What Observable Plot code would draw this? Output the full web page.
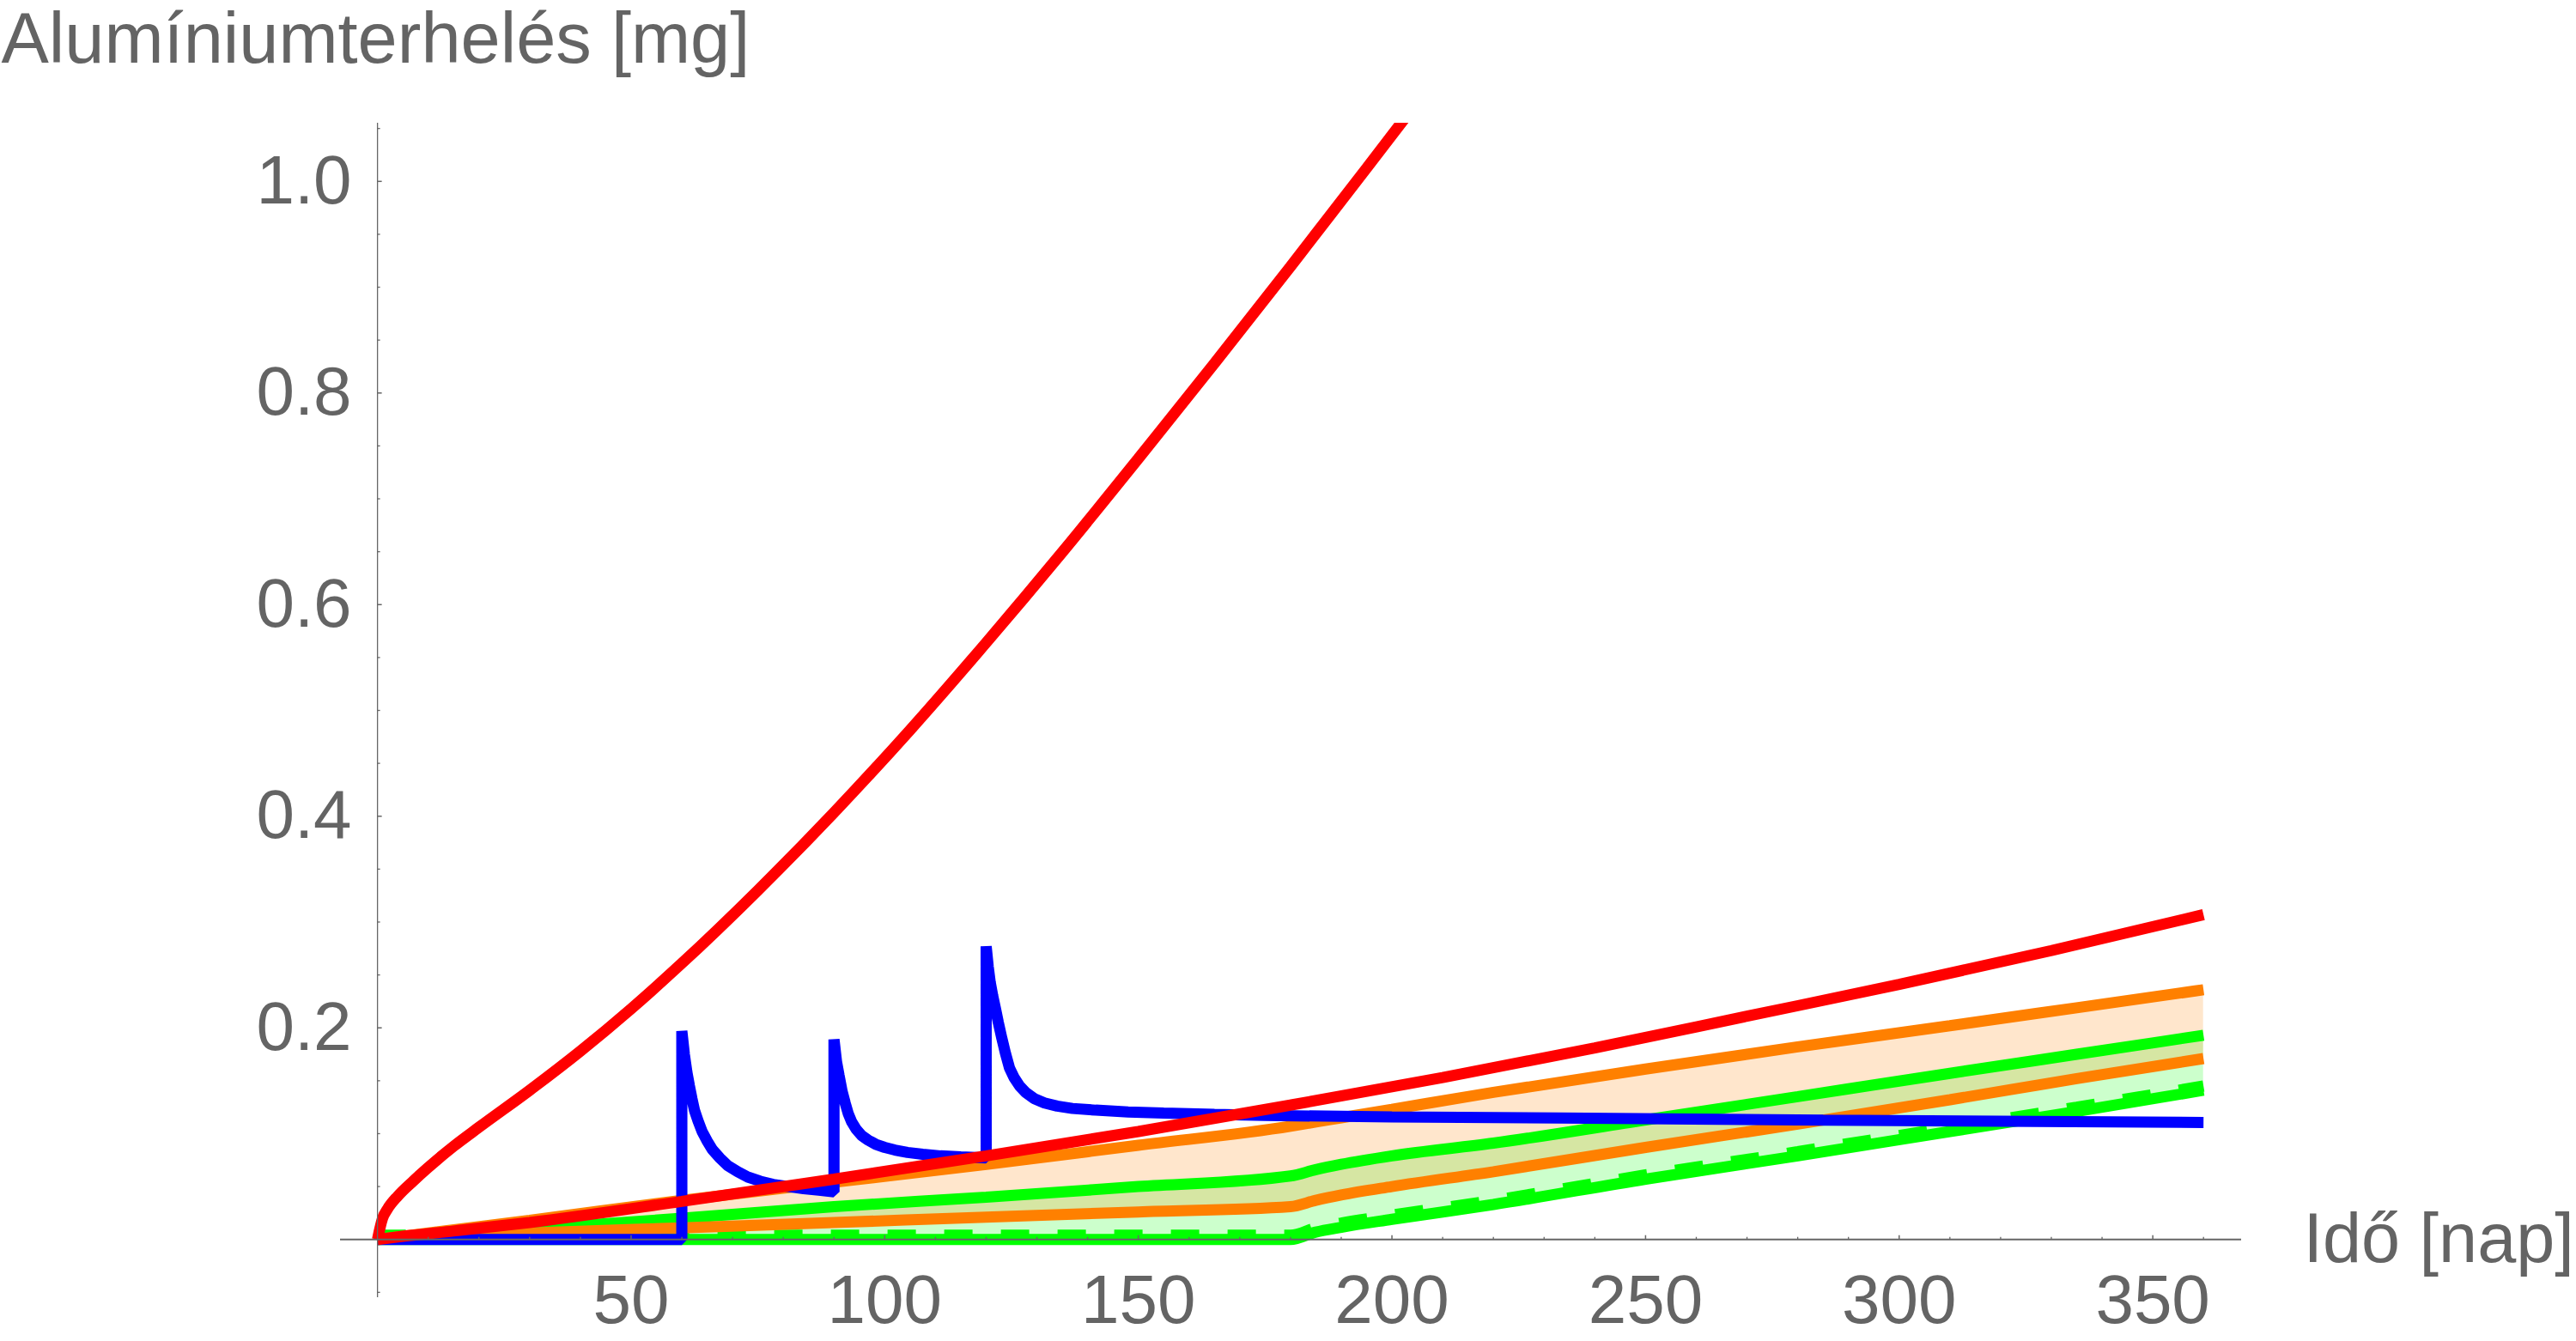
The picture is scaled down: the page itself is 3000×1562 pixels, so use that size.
<!DOCTYPE html>
<html>
<head>
<meta charset="utf-8">
<script src="https://cdn.jsdelivr.net/npm/d3@7"></script>
<script src="https://cdn.jsdelivr.net/npm/@observablehq/plot@0.6"></script>
<style>
  html, body { margin: 0; padding: 0; background: #ffffff; }
  #chart svg { display: block; }
</style>
</head>
<body>
<div id="chart"></div>
<script>
// ---------- texts & ticks ----------
const yTitle = "Alumíniumterhelés [mg]";
const xTitle = "Idő [nap]";
const xTickLabels = [50, 100, 150, 200, 250, 300, 350];
const xMinorTicks = [10, 20, 30, 40, 60, 70, 80, 90, 110, 120, 130, 140, 160, 170, 180, 190,
                     210, 220, 230, 240, 260, 270, 280, 290, 310, 320, 330, 340, 360];
const yTickLabels = [0.2, 0.4, 0.6, 0.8, 1.0];
const yMinorTicks = [-0.05, 0.05, 0.1, 0.15, 0.25, 0.3, 0.35, 0.45, 0.5, 0.55, 0.65, 0.7, 0.75,
                     0.85, 0.9, 0.95, 1.05];

// ---------- series ----------
// steep red curve
const redSteepDays = [0, 1, 2, 4, 7, 10, 15, 20, 30, 40, 50, 60, 75, 90, 105, 120, 135, 150, 165, 180, 195, 205];
const redSteep     = [0, 0.02, 0.029, 0.041, 0.055, 0.068, 0.088, 0.106, 0.141, 0.178, 0.218, 0.261, 0.33,
                      0.4035, 0.4815, 0.564, 0.6495, 0.738, 0.828, 0.9195, 1.0125, 1.075];
// lower red curve
const redLowDays = [0, 5, 15, 30, 60, 90, 120, 150, 180, 210, 240, 270, 300, 330, 360];
const redLow     = [0, 0.003, 0.008, 0.016, 0.036, 0.057, 0.079, 0.102, 0.127, 0.153, 0.181, 0.211,
                    0.241, 0.273, 0.307];
// orange and green bands
const bandDays    = [0, 30, 60, 90, 120, 150, 180, 185, 190, 200, 220, 250, 280, 310, 335, 360];
const orangeUpper = [0, 0.018, 0.037, 0.054, 0.071, 0.089, 0.107, 0.111, 0.115, 0.123, 0.139, 0.161, 0.182, 0.202, 0.219, 0.236];
const orangeLower = [0, 0.006, 0.011, 0.016, 0.021, 0.026, 0.031, 0.037, 0.042, 0.050, 0.064, 0.087, 0.109, 0.132, 0.152, 0.171];
const greenUpper  = [0, 0.010, 0.020, 0.031, 0.040, 0.050, 0.060, 0.066, 0.071, 0.079, 0.091, 0.113, 0.135, 0.157, 0.175, 0.193];
const greenLower  = [0, 0, 0, 0, 0, 0, 0, 0.007, 0.0115, 0.019, 0.033, 0.057, 0.079, 0.102, 0.121, 0.141];
const greenDashed = [0.004, 0.004, 0.004, 0.004, 0.004, 0.004, 0.004, 0.011, 0.0155, 0.023, 0.037, 0.061, 0.083, 0.106, 0.125, 0.145];
// blue curve with three doses
const blueDays = [0, 60,
  60, 60.5, 61, 61.5, 62, 62.5, 63.2, 64, 65, 66, 67.5, 69, 71, 73, 75.5, 78, 81, 84, 87, 90,
  90, 90.5, 91, 91.6, 92.2, 92.8, 93.5, 94.4, 95.5, 96.7, 98.2, 100, 102, 104.5, 107.5, 111, 115, 120,
  120, 120.4, 120.8, 121.3, 121.8, 122.4, 123.1, 123.8, 124.6, 125.5, 126.6, 127.8, 129.5, 131.5, 134,
  137, 141.6, 148, 155, 165, 175, 200, 233, 285, 360];
const blueLoad = [0, 0,
  0.197, 0.175, 0.158, 0.145, 0.133, 0.122, 0.112, 0.102, 0.093, 0.085, 0.077, 0.070, 0.064, 0.059,
  0.055, 0.052, 0.050, 0.048, 0.0465, 0.045,
  0.189, 0.168, 0.155, 0.140, 0.129, 0.119, 0.111, 0.104, 0.098, 0.094, 0.090, 0.087, 0.0845, 0.0822,
  0.0805, 0.079, 0.078, 0.077,
  0.277, 0.258, 0.243, 0.230, 0.219, 0.205, 0.190, 0.176, 0.162, 0.153, 0.145, 0.139, 0.133, 0.129,
  0.126, 0.1238, 0.1222, 0.1205, 0.1195, 0.1183, 0.1172, 0.1158, 0.1147, 0.1128, 0.1106];

// ---------- tables ----------
const rows = (xs, ys) => xs.map((d, i) => ({day: d, load: ys[i]}));
const red1 = rows(redSteepDays, redSteep);
const red2 = rows(redLowDays, redLow);
const blue = rows(blueDays, blueLoad);
const bands = bandDays.map((d, i) => ({
  day: d, ou: orangeUpper[i], ol: orangeLower[i], gu: greenUpper[i], gl: greenLower[i], gd: greenDashed[i]
}));

const RED = "#ff0000", BLUE = "#0000ff", ORANGE = "#ff8000", GREEN = "#00ff00", GRAY = "#666666", TEXT = "#646464";
const LW = 13;
const lineOpts = {strokeWidth: LW, strokeLinecap: "butt", strokeLinejoin: "miter"};

const tickRight = {draw(ctx, size) { const l = Math.sqrt(size / Math.PI); ctx.moveTo(0, 0); ctx.lineTo(l, 0); }};
const tickUp = {draw(ctx, size) { const l = Math.sqrt(size / Math.PI); ctx.moveTo(0, 0); ctx.lineTo(0, -l); }};

const chart = Plot.plot({
  width: 3000,
  height: 1562,
  marginLeft: 396,
  marginRight: 390,
  marginTop: 143,
  marginBottom: 51,
  x: {domain: [-7.3, 367.5], axis: null},
  y: {domain: [-0.055, 1.055], axis: null},
  style: {fontFamily: "'Liberation Sans', Arial, sans-serif", background: "#ffffff", overflow: "visible"},
  marks: [
    // fills
    Plot.areaY(bands, {x: "day", y1: "gl", y2: "gu", fill: GREEN, fillOpacity: 0.2, curve: "monotone-x"}),
    Plot.areaY(bands, {x: "day", y1: "ol", y2: "ou", fill: ORANGE, fillOpacity: 0.2, curve: "monotone-x"}),
    // green lines
    Plot.line(bands, {x: "day", y: "gl", stroke: GREEN, curve: "monotone-x", ...lineOpts}),
    Plot.line(bands, {x: "day", y: "gd", stroke: GREEN, curve: "monotone-x", strokeDasharray: "33,33", ...lineOpts}),
    Plot.line(bands, {x: "day", y: "gu", stroke: GREEN, curve: "monotone-x", ...lineOpts}),
    // orange lines
    Plot.line(bands, {x: "day", y: "ol", stroke: ORANGE, curve: "monotone-x", ...lineOpts}),
    Plot.line(bands, {x: "day", y: "ou", stroke: ORANGE, curve: "monotone-x", ...lineOpts}),
    // blue
    Plot.line(blue, {x: "day", y: "load", stroke: BLUE, curve: "linear", ...lineOpts}),
    // reds
    Plot.line(red2, {x: "day", y: "load", stroke: RED, curve: "monotone-x", ...lineOpts}),
    Plot.line(red1, {x: "day", y: "load", stroke: RED, curve: "monotone-x", clip: true, ...lineOpts}),
    // axes
    Plot.ruleY([0], {stroke: GRAY, strokeWidth: 2}),
    Plot.ruleX([0], {stroke: GRAY, strokeWidth: 1.3}),
    Plot.dot(yTickLabels, {x: 0, y: d => d, symbol: tickRight, r: 5, stroke: GRAY, fill: "none", strokeWidth: 1.5}),
    Plot.dot(yMinorTicks, {x: 0, y: d => d, symbol: tickRight, r: 3, stroke: GRAY, fill: "none", strokeWidth: 1.3}),
    Plot.dot(xTickLabels, {x: d => d, y: 0, symbol: tickUp, r: 5, stroke: GRAY, fill: "none", strokeWidth: 1.5}),
    Plot.dot(xMinorTicks, {x: d => d, y: 0, symbol: tickUp, r: 3, stroke: GRAY, fill: "none", strokeWidth: 1.3}),
    // tick labels
    Plot.text(yTickLabels, {x: 0, y: d => d, text: d => d.toFixed(1), textAnchor: "end", dx: -30,
      lineAnchor: "middle", fontSize: 80, fill: TEXT}),
    Plot.text(xTickLabels, {x: d => d, y: 0, text: d => String(d), textAnchor: "middle", dy: 40,
      lineAnchor: "top", fontSize: 80, fill: TEXT}),
    // axis titles
    Plot.text([yTitle], {frameAnchor: "top-left", dx: -395, dy: -129, text: d => d, textAnchor: "start",
      lineAnchor: "top", fontSize: 83, fill: TEXT}),
    Plot.text([xTitle], {y: 0, frameAnchor: "right", dx: 72, text: d => d, textAnchor: "start",
      lineAnchor: "middle", fontSize: 81, fill: TEXT})
  ]
});
document.getElementById("chart").appendChild(chart);
</script>
</body>
</html>
